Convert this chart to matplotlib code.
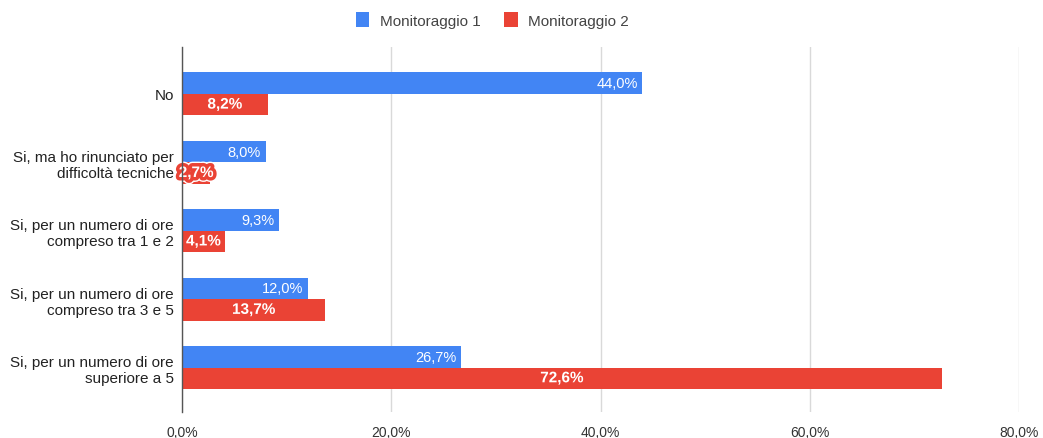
import matplotlib.pyplot as plt
import matplotlib.patheffects as pe
import numpy as np

plt.rcParams['font.family'] = ['Liberation Sans', 'DejaVu Sans']

# Data
categories = [
    'No',
    'Si, ma ho rinunciato per\ndifficoltà tecniche',
    'Si, per un numero di ore\ncompreso tra 1 e 2',
    'Si, per un numero di ore\ncompreso tra 3 e 5',
    'Si, per un numero di ore\nsuperiore a 5',
]
monit_1 = [44.0, 8.0, 9.3, 12.0, 26.7]
monit_2 = [8.2, 2.7, 4.1, 13.7, 72.6]
series_names = ['Monitoraggio 1', 'Monitoraggio 2']
x_ticks = [0, 20, 40, 60, 80]

BLUE = '#4285F4'
RED = '#EA4335'


def pct(v):
    return f'{v:.1f}%'.replace('.', ',')


fig = plt.figure(figsize=(10.43, 4.39), dpi=100)
ax = fig.add_axes([0.1745, 0.0592, 0.8025, 0.8315])

y = np.arange(len(categories))
h = 0.314
b1 = ax.barh(y - h / 2, monit_1, height=h, color=BLUE, label=series_names[0], zorder=3)
b2 = ax.barh(y + h / 2, monit_2, height=h, color=RED, label=series_names[1], zorder=3)

# Value labels
for bar, v in zip(b1, monit_1):
    ax.text(v - 0.45, bar.get_y() + bar.get_height() / 2, pct(v), ha='right', va='center',
            color='white', fontsize=10.5, zorder=4)
for bar, v in zip(b2, monit_2):
    effects = [pe.Stroke(linewidth=3, foreground=RED), pe.Normal()]
    if v < 3:  # label sticks out of the bar
        effects = [pe.Stroke(linewidth=7, foreground='white'),
                   pe.Stroke(linewidth=5, foreground=RED), pe.Normal()]
    ax.text(v / 2, bar.get_y() + bar.get_height() / 2, pct(v), ha='center', va='center',
            color='white', fontsize=11, fontweight='bold', zorder=4, path_effects=effects)

ax.set_xlim(0, 80)
ax.set_ylim(4.65, -0.685)
ax.set_yticks(y)
ax.set_yticklabels(categories, fontsize=11, color='#222222')
ax.set_xticks(x_ticks)
ax.set_xticklabels([pct(t) for t in x_ticks], fontsize=10, color='#333333')
ax.tick_params(axis='both', length=0)
ax.tick_params(axis='y', pad=6)
ax.tick_params(axis='x', pad=9)

ax.grid(axis='x', color='#d9d9d9', linewidth=1, zorder=0)
for s in ['top', 'right', 'bottom']:
    ax.spines[s].set_visible(False)
ax.spines['left'].set_color('#555555')
ax.spines['left'].set_linewidth(1)
ax.spines['left'].set_zorder(5)

leg = fig.legend(handles=[b1, b2], labels=series_names, loc='center', ncol=2,
                 bbox_to_anchor=(0.472, 0.952), frameon=False, fontsize=11,
                 handlelength=0.9, handleheight=1.1, handletextpad=0.7, columnspacing=1.5)
for t in leg.get_texts():
    t.set_color('#444444')

fig.savefig('out.png', dpi=100, facecolor='white')
